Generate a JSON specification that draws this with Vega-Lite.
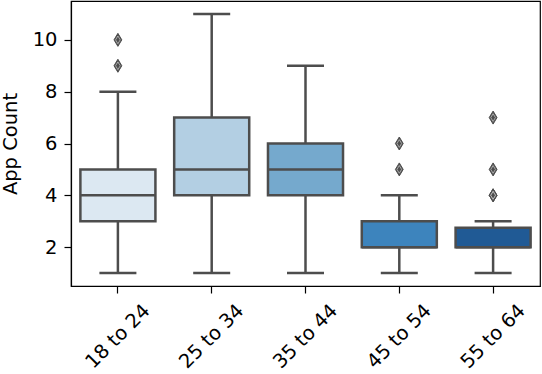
{
  "$schema": "https://vega.github.io/schema/vega-lite/v6.json",
  "autosize": {"type": "none"},
  "width": 469,
  "height": 285,
  "padding": {"left": 71, "top": 1, "right": 2, "bottom": 88},
  "background": "white",
  "config": {
    "font": "DejaVu Sans",
    "view": {"stroke": "black", "strokeWidth": 1.2},
    "axis": {"labelFont": "DejaVu Sans", "titleFont": "DejaVu Sans", "labelColor": "black", "titleColor": "black", "domainColor": "black", "tickColor": "black", "grid": false, "labelFontSize": 19.5, "titleFontSize": 19.5, "titleFontWeight": "normal", "tickSize": 7, "tickWidth": 1.2, "domainWidth": 1.2}
  },
  "datasets": {
    "boxes": [
      {"group": "18 to 24", "lower": 1, "q1": 3, "median": 4, "q3": 5, "upper": 8},
      {"group": "25 to 34", "lower": 1, "q1": 4, "median": 5, "q3": 7, "upper": 11},
      {"group": "35 to 44", "lower": 1, "q1": 4, "median": 5, "q3": 6, "upper": 9},
      {"group": "45 to 54", "lower": 1, "q1": 2, "median": 2, "q3": 3, "upper": 4},
      {"group": "55 to 64", "lower": 1, "q1": 2, "median": 2, "q3": 2.75, "upper": 3}
    ],
    "outliers": [
      {"group": "18 to 24", "value": 9},
      {"group": "18 to 24", "value": 10},
      {"group": "45 to 54", "value": 5},
      {"group": "45 to 54", "value": 6},
      {"group": "55 to 64", "value": 4},
      {"group": "55 to 64", "value": 4},
      {"group": "55 to 64", "value": 5},
      {"group": "55 to 64", "value": 7}
    ]
  },
  "encoding": {
    "x": {"field": "group", "type": "nominal", "sort": null, "title": null,
      "scale": {"paddingInner": 0, "paddingOuter": 0},
      "axis": {"labelAngle": -45, "labelAlign": "center", "labelBaseline": "middle", "labelPadding": 43}}
  },
  "layer": [
    {
      "data": {"name": "boxes"},
      "mark": {"type": "rule", "color": "#4d4d4d", "strokeWidth": 2.5},
      "encoding": {
        "y": {"field": "lower", "type": "quantitative", "title": "App Count",
          "scale": {"domain": [0.5, 11.5], "nice": false, "zero": false},
          "axis": {"values": [2, 4, 6, 8, 10], "titlePadding": 12, "labelPadding": 7}},
        "y2": {"field": "upper"}
      }
    },
    {
      "data": {"name": "boxes"},
      "mark": {"type": "bar", "width": {"band": 0.8}, "stroke": "#4d4d4d", "strokeWidth": 2.5},
      "encoding": {
        "y": {"field": "q1", "type": "quantitative"},
        "y2": {"field": "q3"},
        "fill": {"field": "group", "type": "nominal", "legend": null,
          "scale": {"domain": ["18 to 24", "25 to 34", "35 to 44", "45 to 54", "55 to 64"],
            "range": ["#dce8f2", "#b3cfe3", "#75a9cd", "#3d84bd", "#205a95"]}}
      }
    },
    {
      "data": {"name": "boxes"},
      "mark": {"type": "tick", "color": "#4d4d4d", "thickness": 2.5, "size": 75, "opacity": 1},
      "encoding": {"y": {"field": "median", "type": "quantitative"}}
    },
    {
      "data": {"name": "boxes"},
      "mark": {"type": "tick", "color": "#4d4d4d", "thickness": 2.5, "size": 37, "opacity": 1},
      "encoding": {"y": {"field": "lower", "type": "quantitative"}}
    },
    {
      "data": {"name": "boxes"},
      "mark": {"type": "tick", "color": "#4d4d4d", "thickness": 2.5, "size": 37, "opacity": 1},
      "encoding": {"y": {"field": "upper", "type": "quantitative"}}
    },
    {
      "data": {"name": "outliers"},
      "mark": {"type": "point", "shape": "M0,-1L0.6,0L0,1L-0.6,0Z", "size": 169, "filled": true, "fill": "#4d4d4d", "stroke": "#4d4d4d", "strokeWidth": 1, "opacity": 1},
      "encoding": {"y": {"field": "value", "type": "quantitative"}}
    },
    {
      "data": {"name": "outliers"},
      "mark": {"type": "point", "shape": "M0,-1L0.6,0L0,1L-0.6,0Z", "size": 60, "filled": true, "fill": "#4d4d4d", "stroke": "#d0d0d0", "strokeWidth": 0.7, "opacity": 1},
      "encoding": {"y": {"field": "value", "type": "quantitative"}}
    }
  ]
}
